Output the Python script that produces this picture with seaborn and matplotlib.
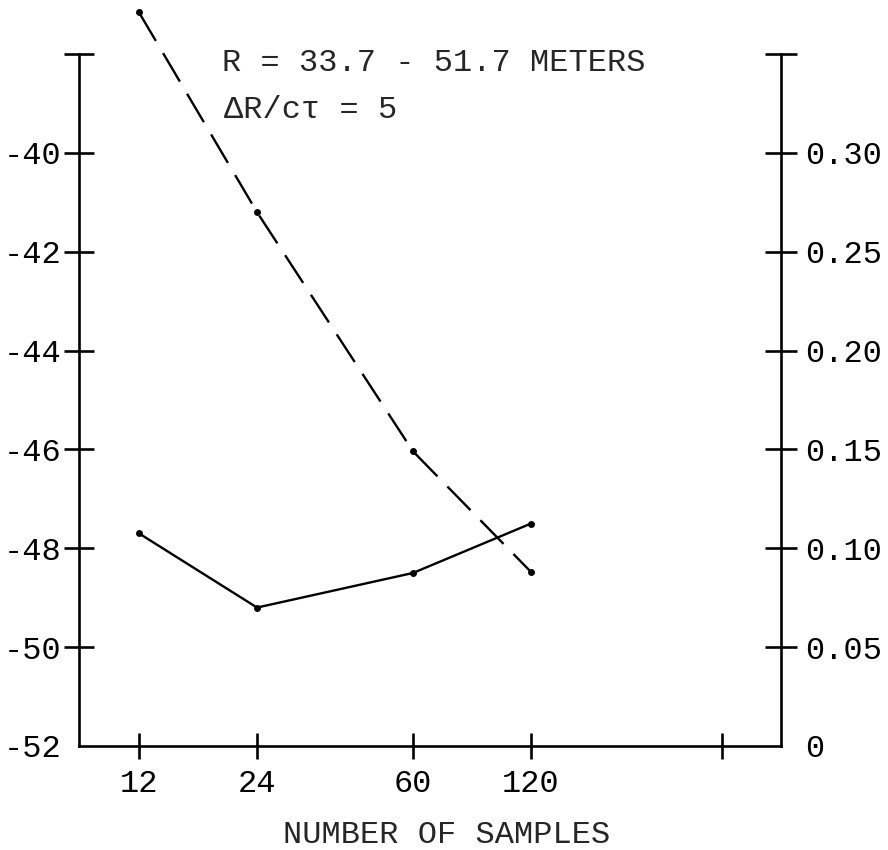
import matplotlib
matplotlib.use("Agg")
import matplotlib.pyplot as plt
import pandas as pd
import seaborn as sns
from matplotlib.ticker import FixedLocator, FixedFormatter, NullLocator

# Number of samples on the horizontal axis
samples = [12, 24, 60, 120]
# Solid curve, left scale (dB)
solid_db = [-47.7, -49.2, -48.5, -47.5]
# Dashed curve, right scale
dashed_ratio = [0.371, 0.270, 0.149, 0.088]

x_ticks = [12, 24, 60, 120, 368]
x_tick_labels = ["12", "24", "60", "120", ""]
left_ticks = [-52, -50, -48, -46, -44, -42, -40, -38]
left_tick_labels = ["-52", "-50", "-48", "-46", "-44", "-42", "-40", ""]
right_ticks = [0, 0.05, 0.10, 0.15, 0.20, 0.25, 0.30, 0.35]
right_tick_labels = ["0", "0.05", "0.10", "0.15", "0.20", "0.25", "0.30", ""]

note_lines = ["R = 33.7 - 51.7 METERS", "\u0394R/c\u03c4 = 5"]
x_title = "NUMBER OF SAMPLES"

sns.set_theme(style="white")
plt.rcParams["font.family"] = ["Liberation Mono", "DejaVu Sans Mono"]
plt.rcParams["axes.unicode_minus"] = False

FS = 23
LW_AX = 1.9

fig = plt.figure(figsize=(8.88, 8.5), dpi=100)
ax = fig.add_axes([0.0890, 0.1224, 0.7905, 0.8141])
ax2 = ax.twinx()

df = pd.DataFrame({"samples": samples, "solid": solid_db, "dashed": dashed_ratio})

sns.lineplot(data=df, x="samples", y="solid", ax=ax, color="black",
             linewidth=1.7, marker="o", markersize=5, markeredgewidth=0,
             clip_on=False)
sns.lineplot(data=df, x="samples", y="dashed", ax=ax2, color="black",
             linewidth=1.7, linestyle=(0, (14, 6)), marker="o", markersize=5,
             markeredgewidth=0, clip_on=False)

ax.set_xscale("log")
ax.set_xlim(8.435, 521.2)
ax.set_ylim(-52, -38)
ax2.set_ylim(0, 0.35)

ax.xaxis.set_major_locator(FixedLocator(x_ticks))
ax.xaxis.set_major_formatter(FixedFormatter(x_tick_labels))
ax.xaxis.set_minor_locator(NullLocator())
ax.yaxis.set_major_locator(FixedLocator(left_ticks))
ax.yaxis.set_major_formatter(FixedFormatter(left_tick_labels))
ax2.yaxis.set_major_locator(FixedLocator(right_ticks))
ax2.yaxis.set_major_formatter(FixedFormatter(right_tick_labels))

ax.set_xlabel("")
ax.set_ylabel("")
ax2.set_ylabel("")

for a in (ax, ax2):
    for s in a.spines.values():
        s.set_visible(False)
        s.set_linewidth(LW_AX)
        s.set_color("black")
ax.spines["left"].set_visible(True)
ax.spines["bottom"].set_visible(True)
ax2.spines["right"].set_visible(True)

ax.tick_params(axis="x", direction="inout", length=19, width=LW_AX, pad=7,
               labelsize=FS, colors="black", bottom=True)
ax.tick_params(axis="y", direction="inout", length=21, width=LW_AX, pad=2,
               labelsize=FS, colors="black", left=True)
ax2.tick_params(axis="y", direction="inout", length=23, width=LW_AX, pad=6,
                labelsize=FS, colors="black", right=True)

# the lowest ticks sit on the corners of the frame
ax.yaxis.get_major_ticks()[0].tick1line.set_visible(False)
ax2.yaxis.get_major_ticks()[0].tick2line.set_visible(False)

ax.grid(False)
ax2.grid(False)

fig.text(222 / 888, 1 - 63 / 850, note_lines[0], fontsize=FS, ha="left", va="center")
fig.text(224 / 888, 1 - 110 / 850, note_lines[1], fontsize=FS, ha="left", va="center")
fig.text(447 / 888, 1 - 835 / 850, x_title, fontsize=FS, ha="center", va="center")

fig.savefig("out.png", dpi=100, facecolor="white")
